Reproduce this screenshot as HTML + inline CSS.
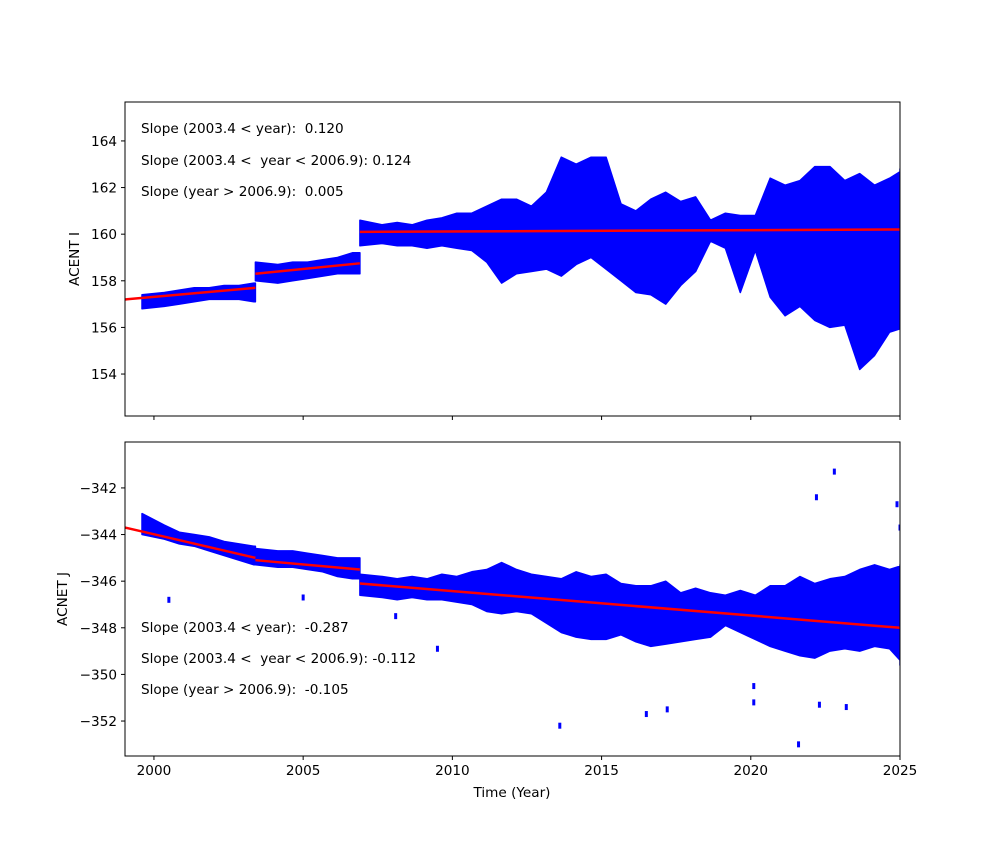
<!DOCTYPE html>
<html><head><meta charset="utf-8"><style>
body{margin:0;background:#fff}
svg text{font-family:"DejaVu Sans","Liberation Sans",sans-serif;font-size:13.6px;fill:#000}
</style></head><body>
<svg id="fig" width="1000" height="850" xmlns="http://www.w3.org/2000/svg"></svg>
<script>
const years=[1999.6,2000.1,2000.6,2001.1,2001.6,2002.1,2002.6,2003.1,2003.4,2003.9,2004.4,2004.9,2005.4,2005.9,2006.4,2006.9,2007.4,2007.9,2008.4,2008.9,2009.4,2009.9,2010.4,2010.9,2011.4,2011.9,2012.4,2012.9,2013.4,2013.9,2014.4,2014.9,2015.4,2015.9,2016.4,2016.9,2017.4,2017.9,2018.4,2018.9,2019.4,2019.9,2020.4,2020.9,2021.4,2021.9,2022.4,2022.9,2023.4,2023.9,2024.4,2024.9];
const iLo=[156.8,156.9,157.0,157.1,157.2,157.2,157.2,157.1,158.0,157.9,158.0,158.1,158.2,158.3,158.3,159.5,159.6,159.5,159.5,159.4,159.5,159.4,159.3,158.8,157.9,158.3,158.4,158.5,158.2,158.7,159.0,158.5,158.0,157.5,157.4,157.0,157.8,158.4,159.7,159.4,157.5,159.3,157.3,156.5,156.9,156.3,156.0,156.1,154.2,154.8,155.8,156.0];
const iHi=[157.4,157.5,157.6,157.7,157.7,157.8,157.8,157.9,158.8,158.7,158.8,158.8,158.9,159.0,159.2,160.6,160.4,160.5,160.4,160.6,160.7,160.9,160.9,161.2,161.5,161.5,161.2,161.8,163.3,163.0,163.3,163.3,161.3,161.0,161.5,161.8,161.4,161.6,160.6,160.9,160.8,160.8,162.4,162.1,162.3,162.9,162.9,162.3,162.6,162.1,162.4,162.8];
const jLo=[-344.0,-344.2,-344.4,-344.5,-344.7,-344.9,-345.1,-345.3,-345.3,-345.4,-345.4,-345.5,-345.6,-345.8,-345.9,-346.6,-346.7,-346.8,-346.7,-346.8,-346.8,-346.9,-347.0,-347.3,-347.4,-347.3,-347.4,-347.8,-348.2,-348.4,-348.5,-348.5,-348.3,-348.6,-348.8,-348.7,-348.6,-348.5,-348.4,-347.9,-348.2,-348.5,-348.8,-349.0,-349.2,-349.3,-349.0,-348.9,-349.0,-348.8,-348.9,-349.6];
const jHi=[-343.1,-343.6,-343.9,-344.0,-344.1,-344.3,-344.4,-344.5,-344.6,-344.7,-344.7,-344.8,-344.9,-345.0,-345.0,-345.7,-345.8,-345.9,-345.8,-345.9,-345.7,-345.8,-345.6,-345.5,-345.2,-345.5,-345.7,-345.8,-345.9,-345.6,-345.8,-345.7,-346.1,-346.2,-346.2,-346.0,-346.5,-346.3,-346.5,-346.6,-346.4,-346.6,-346.2,-346.2,-345.8,-346.1,-345.9,-345.8,-345.5,-345.3,-345.5,-345.3];
const outX=[2000.5,2005.0,2008.1,2009.5,2013.6,2016.5,2017.2,2020.1,2020.1,2021.6,2022.2,2022.3,2022.8,2023.2,2024.9,2025.0];
const outY=[-346.8,-346.7,-347.5,-348.9,-352.2,-351.7,-351.5,-351.2,-350.5,-353.0,-342.4,-351.3,-341.3,-351.4,-342.7,-343.7];
const fitI=[[1999.0,157.2,2003.4,157.7],[2003.4,158.3,2006.9,158.75],[2006.9,160.1,2025,160.2]];
const fitJ=[[1999.0,-343.7,2003.4,-345.0],[2003.4,-345.1,2006.9,-345.5],[2006.9,-346.1,2025,-348.0]];
const segBreaks=[1999.6,2003.4,2006.9,2025];
const xTicks=[2000,2005,2010,2015,2020,2025];
const iTicks=[154,156,158,160,162,164];
const jTicks=[-352,-350,-348,-346,-344,-342];
const textsI=["Slope (2003.4 < year):  0.120","Slope (2003.4 <  year < 2006.9): 0.124","Slope (year > 2006.9):  0.005"];
const textsJ=["Slope (2003.4 < year):  -0.287","Slope (2003.4 <  year < 2006.9): -0.112","Slope (year > 2006.9):  -0.105"];

const NS="http://www.w3.org/2000/svg",fig=document.getElementById('fig');
function mk(t,a,p){const e=document.createElementNS(NS,t);for(const k in a)e.setAttribute(k,a[k]);(p||fig).appendChild(e);return e;}
const L=125,R=900,X0=1999.03,X1=2025;
const sx=v=>L+(v-X0)/(X1-X0)*(R-L);
const defs=mk('defs',{});
function panel(name,top,bot,y0,y1,lo,hi,fit,ticks,texts,textY,ylabel,ylx,showX){
  const sy=v=>bot-(v-y0)/(y1-y0)*(bot-top);
  const cid='clip-'+name;
  const cp=mk('clipPath',{id:cid},defs);
  mk('rect',{x:L,y:top,width:R-L,height:bot-top},cp);
  const g=mk('g',{});
  
  
  const dg=mk('g',{'clip-path':`url(#${cid})`},g);
  
  
  for(let s=0;s<3;s++){
    const a=segBreaks[s],b=segBreaks[s+1];
    const idx=[];for(let i=0;i<years.length;i++){if(years[i]>=a-1e-6&&years[i]<b-1e-6)idx.push(i);}
    const top_=[],bot_=[];
    idx.forEach((i,k)=>{
      let xc=years[i]+0.25;
      if(k===0)xc=a;
      top_.push([sx(xc),sy(hi[i])]);bot_.push([sx(xc),sy(lo[i])]);
      if(k===idx.length-1){top_.push([sx(b),sy(hi[i])]);bot_.push([sx(b),sy(lo[i])]);}
    });
    const pts=top_.concat(bot_.reverse()).map(p=>p[0].toFixed(1)+','+p[1].toFixed(1)).join(' ');
    const p=mk('polygon',{points:pts,fill:'#0000ff',stroke:'#0000ff','stroke-width':1.5,'stroke-linejoin':'round'},dg);
    
    
  }
  if(name==='panel-acnet-j'){
    for(let i=0;i<outX.length;i++){
      const r=mk('rect',{x:sx(outX[i])-1.5,y:sy(outY[i])-3,width:3,height:6,fill:'#0000ff'},dg);
      
      
    }
  }
  fit.forEach(f=>{
    const l=mk('line',{x1:Math.max(L,sx(f[0])),y1:sy(f[1]),x2:sx(f[2]),y2:sy(f[3]),stroke:'#ff0000','stroke-width':2.5},dg);
    
    
  });
  const fr=mk('rect',{x:L,y:top,width:R-L,height:bot-top,fill:'none',stroke:'#000','stroke-width':1},g);
  
  
  ticks.forEach(t=>{
    mk('line',{x1:L-4,x2:L,y1:sy(t),y2:sy(t),stroke:'#000'},g);
    const tx=mk('text',{x:L-8,y:sy(t)+5,'text-anchor':'end'},g);tx.textContent=String(t).replace('-','\u2212');
    
    
  });
  xTicks.forEach(t=>{
    mk('line',{x1:sx(t),x2:sx(t),y1:bot,y2:bot+4,stroke:'#000'},g);
    if(showX){const tx=mk('text',{x:sx(t),y:bot+19,'text-anchor':'middle'},g);tx.textContent=t;
      
      }
  });
  texts.forEach((s,i)=>{const tx=mk('text',{x:141,y:textY[i]},g);tx.textContent=s;tx.style.whiteSpace='pre';
    
    });
  const yl=mk('text',{x:ylx,y:(top+bot)/2,'text-anchor':'middle',transform:`rotate(-90 ${ylx} ${(top+bot)/2})`},g);yl.textContent=ylabel;
  
  
}
panel('panel-acent-i',102,416,152.2,165.67,iLo,iHi,fitI,iTicks,textsI,[133,165,196],'ACENT I',79,false);
panel('panel-acnet-j',442,756,-353.5,-340.03,jLo,jHi,fitJ,jTicks,textsJ,[632,663,694],'ACNET J',67,true);
const xl=mk('text',{x:512,y:797,'text-anchor':'middle'});xl.textContent='Time (Year)';


</script>
</body></html>
